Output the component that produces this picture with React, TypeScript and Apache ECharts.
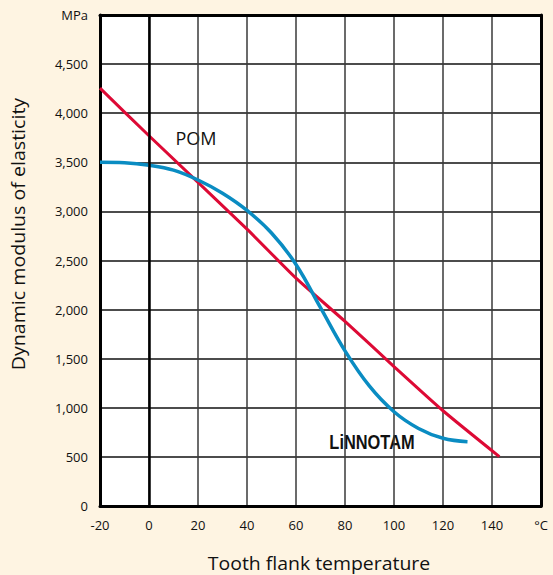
import { useEffect, useRef } from "react";
import * as echarts from "echarts";

// X axis ticks (°C) and Y axis ticks (MPa)
const xTickValues = [-20, 0, 20, 40, 60, 80, 100, 120, 140, 160];
const yTickValues = [0, 500, 1000, 1500, 2000, 2500, 3000, 3500, 4000, 4500, 5000];

// POM curve (tooth flank temperature °C -> dynamic modulus MPa)
const pomTemp = [-20, 0, 40, 60, 80, 100, 120, 143];
const pomModulus = [4255, 3770, 2820, 2320, 1880, 1420, 970, 503];

// LiNNOTAM curve
const linTemp = [-20, -10, 0, 10, 20, 30, 40, 50, 60, 70, 80, 90, 100, 110, 120, 130];
const linModulus = [3500, 3495, 3470, 3420, 3320, 3185, 3010, 2780, 2460, 2020, 1580, 1220, 960, 790, 690, 655];

const seriesNames = ["POM", "LiNNOTAM"];

const FONT = '"Open Sans", "Noto Sans", sans-serif';

export default function App() {
  const ref = useRef<HTMLDivElement>(null);

  useEffect(() => {
    if (!ref.current) return;
    const chart = echarts.init(ref.current, null, { renderer: "svg" });
    const xMin = xTickValues[0];
    const xMax = xTickValues[xTickValues.length - 1];
    const yMin = yTickValues[0];
    const yMax = yTickValues[yTickValues.length - 1];

    const option: any = {
      animation: false,
      backgroundColor: "#fef4e2",
      grid: {
        left: 100,
        right: 12,
        top: 15,
        bottom: 69,
        show: true,
        backgroundColor: "#ffffff",
        borderWidth: 0,
      },
      xAxis: [
        {
          type: "value",
          min: xMin,
          max: xMax,
          interval: 20,
          axisLine: { show: true, onZero: false, lineStyle: { color: "#000", width: 3 } },
          axisTick: { show: false },
          splitLine: { show: true, lineStyle: { color: "#3a3a3a", width: 1.5 } },
          axisLabel: {
            margin: 12,
            color: "#111",
            fontSize: 13,
            fontFamily: FONT,
            formatter: (v: number) => (v === xMax ? "°C" : String(v)),
          },
        },
        {
          type: "value",
          position: "top",
          min: xMin,
          max: xMax,
          interval: 20,
          axisLine: { show: true, onZero: false, lineStyle: { color: "#000", width: 3 } },
          axisTick: { show: false },
          splitLine: { show: false },
          axisLabel: { show: false },
        },
      ],
      yAxis: [
        {
          type: "value",
          min: yMin,
          max: yMax,
          interval: 500,
          axisLine: { show: true, onZero: false, lineStyle: { color: "#000", width: 3 } },
          axisTick: { show: false },
          splitLine: { show: true, lineStyle: { color: "#111", width: 1.5 } },
          axisLabel: {
            margin: 12,
            color: "#111",
            fontSize: 13,
            fontFamily: FONT,
            formatter: (v: number) => (v === yMax ? "MPa" : v.toLocaleString("en-US")),
          },
        },
        {
          type: "value",
          position: "right",
          min: yMin,
          max: yMax,
          interval: 500,
          axisLine: { show: true, onZero: false, lineStyle: { color: "#000", width: 3 } },
          axisTick: { show: false },
          splitLine: { show: false },
          axisLabel: { show: false },
        },
      ],
      series: [
        {
          type: "line",
          name: "zero",
          data: [],
          z: 1,
          markLine: {
            silent: true,
            symbol: "none",
            label: { show: false },
            lineStyle: { color: "#000", width: 2.5, type: "solid" },
            data: [{ xAxis: 0 }],
          },
        },
        {
          type: "line",
          name: seriesNames[0],
          data: pomTemp.map((t, i) => [t, pomModulus[i]]),
          showSymbol: false,
          smooth: 0.2,
          z: 3,
          lineStyle: { color: "#dd0a35", width: 3 },
        },
        {
          type: "line",
          name: seriesNames[1],
          data: linTemp.map((t, i) => [t, linModulus[i]]),
          showSymbol: false,
          smooth: 0.4,
          z: 4,
          lineStyle: { color: "#0a8cc2", width: 3.5 },
        },
      ],
      graphic: [
        {
          type: "text",
          x: 196,
          y: 138,
          style: {
            text: seriesNames[0],
            fill: "#111",
            font: `18px ${FONT}`,
            textAlign: "center",
            textVerticalAlign: "middle",
          },
        },
        {
          type: "text",
          x: 372,
          y: 442,
          scaleX: 0.8,
          style: {
            text: "LiNNOTAM",
            fill: "#111",
            font: 'bold 20.5px "Liberation Sans", Arial, sans-serif',
            textAlign: "center",
            textVerticalAlign: "middle",
          },
        },
        {
          type: "text",
          x: 319,
          y: 563,
          scaleX: 1.08,
          style: {
            text: "Tooth flank temperature",
            fill: "#111",
            font: `18px ${FONT}`,
            textAlign: "center",
            textVerticalAlign: "middle",
          },
        },
        {
          type: "text",
          x: 18,
          y: 234,
          rotation: Math.PI / 2,
          scaleX: 1.12,
          style: {
            text: "Dynamic modulus of elasticity",
            fill: "#111",
            font: `17.5px ${FONT}`,
            textAlign: "center",
            textVerticalAlign: "middle",
          },
        },
      ],
    };

    chart.setOption(option);
    return () => chart.dispose();
  }, []);

  return (
    <div
      ref={ref}
      style={{ position: "fixed", left: 0, top: 0, width: 553, height: 575 }}
    />
  );
}
